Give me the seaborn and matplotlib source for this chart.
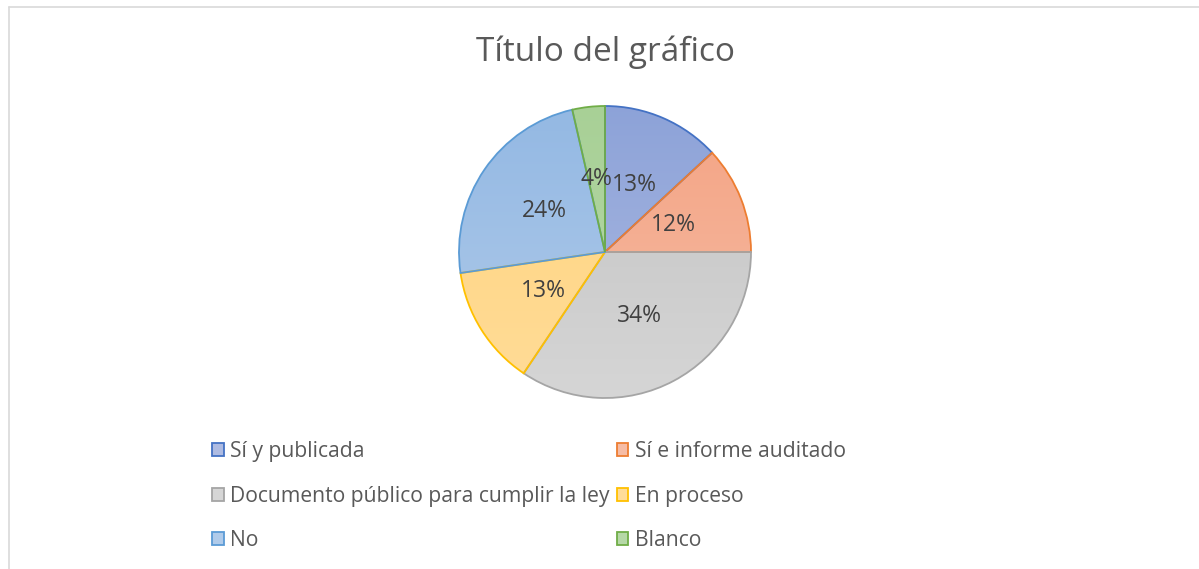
import numpy as np
import matplotlib
matplotlib.use('Agg')
import matplotlib.pyplot as plt
import seaborn as sns
from matplotlib.colors import LinearSegmentedColormap
from matplotlib.patches import Patch
from matplotlib.lines import Line2D

sns.set_theme(style='white')
plt.rcParams['font.family'] = ['Open Sans', 'DejaVu Sans']

# data (shares in %)
categories = ['Sí y publicada', 'Sí e informe auditado',
              'Documento público para cumplir la ley', 'En proceso',
              'No', 'Blanco']
shares = [13.1, 11.9, 34.4, 13.3, 23.7, 3.6]

edge_cols  = ['#4472C4', '#ED7D31', '#A5A5A5', '#FFC000', '#5B9BD5', '#70AD47']
light_cols = ['#AEBBE2', '#F6BCA5', '#D6D6D6', '#FFDC98', '#B0CBEA', '#B6D8A7']
dark_cols  = ['#8CA2D8', '#F4A383', '#C2C2C2', '#FFD47E', '#93B8E3', '#A8D096']

W, H = 1199, 569
fig = plt.figure(figsize=(W / 100, H / 100), dpi=100)

cx, cy, r = 605, 252, 146
ax = fig.add_axes([(cx - r) / W, 1 - (cy + r) / H, 2 * r / W, 2 * r / H])
ax.set_aspect('equal')

wedges, texts, autotexts = ax.pie(
    shares, startangle=90, counterclock=False, radius=1,
    autopct='%1.0f%%', pctdistance=0.5,
    wedgeprops=dict(linewidth=1.3),
    textprops=dict(color='#404040', fontsize=16.5))

# excel style gradient fill, light on top, darker at bottom
grad = np.linspace(0, 1, 256).reshape(-1, 1)
for w, ec, lc, dc in zip(wedges, edge_cols, light_cols, dark_cols):
    w.set_facecolor('none')
    w.set_edgecolor(ec)
    w.set_zorder(3)
    cmap = LinearSegmentedColormap.from_list('g', [lc, dc])
    im = ax.imshow(grad, cmap=cmap, extent=[-1.05, 1.05, 1.05, -1.05],
                   aspect='auto', zorder=1, origin='upper')
    im.set_clip_path(w)
for t in autotexts:
    t.set_zorder(5)

ax.set_xlim(-1.0, 1.0)
ax.set_ylim(-1.0, 1.0)
ax.axis('off')

fig.text(cx / W, 1 - 52 / H, 'Título del gráfico', ha='center', va='center',
         fontsize=24, color='#595959')

handles = [Patch(facecolor=lc, edgecolor=ec, linewidth=1.3)
           for lc, ec in zip(light_cols, edge_cols)]
order = [0, 2, 4, 1, 3, 5]
fig.legend([handles[i] for i in order], [categories[i] for i in order],
           ncol=2, loc='upper left', bbox_to_anchor=(212 / W, 1 - 441 / H),
           frameon=False, fontsize=15.2, labelcolor='#595959',
           handlelength=0.55, handleheight=0.55, handletextpad=0.3,
           columnspacing=0.35, labelspacing=1.12, borderpad=0,
           borderaxespad=0)

# chart area border (cropped at right and bottom)
fig.add_artist(Line2D([9 / W, 1.0], [1 - 7 / H, 1 - 7 / H], color='#D9D9D9', lw=1.2))
fig.add_artist(Line2D([9 / W, 9 / W], [0, 1 - 7 / H], color='#D9D9D9', lw=1.2))

fig.savefig('out.png', dpi=100, facecolor='white')
